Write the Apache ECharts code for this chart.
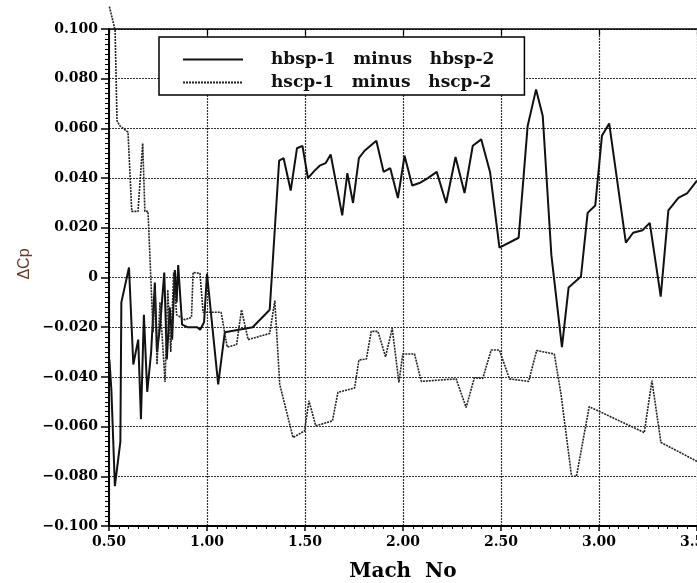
<!DOCTYPE html>
<html lang="en">
<head>
<meta charset="UTF-8">
<title>Delta Cp vs Mach No</title>
<script src="https://cdn.jsdelivr.net/npm/echarts@6/dist/echarts.min.js"></script>
<style>
  html, body { margin: 0; padding: 0; background: #fff; }
  #main { width: 697px; height: 583px; }
</style>
</head>
<body>
<div id="main"></div>
<script type="text/javascript">
// hbsp-1 minus hbsp-2 (solid)
var hbspMach = [0.502, 0.512, 0.530, 0.558, 0.563, 0.602, 0.624, 0.649, 0.663, 0.678,
  0.695, 0.715, 0.734, 0.745, 0.760, 0.782, 0.795, 0.810, 0.822, 0.836,
  0.845, 0.853, 0.873, 0.900, 0.950, 0.965, 0.985, 1.000, 1.057, 1.091,
  1.233, 1.320, 1.368, 1.391, 1.427, 1.459, 1.487, 1.515, 1.549, 1.575,
  1.605, 1.631, 1.690, 1.716, 1.745, 1.775, 1.804, 1.864, 1.901, 1.935,
  1.974, 2.008, 2.047, 2.084, 2.127, 2.172, 2.220, 2.268, 2.314, 2.356,
  2.399, 2.444, 2.492, 2.590, 2.636, 2.679, 2.713, 2.757, 2.811, 2.845,
  2.908, 2.942, 2.981, 3.015, 3.052, 3.137, 3.174, 3.222, 3.259, 3.315,
  3.354, 3.405, 3.451, 3.490, 3.500];
var hbspDcp = [-0.033, -0.045, -0.084, -0.066, -0.010, 0.004, -0.035, -0.025, -0.057, -0.015,
  -0.046, -0.030, -0.002, -0.030, -0.020, 0.002, -0.033, -0.012, -0.025, 0.003,
  -0.010, 0.005, -0.019, -0.020, -0.020, -0.021, -0.018, 0.0015, -0.043, -0.022,
  -0.020, -0.013, 0.047, 0.048, 0.035, 0.052, 0.053, 0.040, 0.043, 0.045,
  0.046, 0.0495, 0.025, 0.042, 0.030, 0.048, 0.051, 0.055, 0.0425, 0.044,
  0.032, 0.049, 0.037, 0.038, 0.040, 0.0425, 0.030, 0.0485, 0.034, 0.053,
  0.0556, 0.0425, 0.012, 0.016, 0.061, 0.0757, 0.065, 0.009, -0.028, -0.004,
  0.0004, 0.026, 0.029, 0.057, 0.062, 0.014, 0.018, 0.019, 0.022, -0.0077,
  0.027, 0.032, 0.034, 0.038, 0.039];

// hscp-1 minus hscp-2 (dotted)
var hscpMach = [0.502, 0.531, 0.541, 0.556, 0.597, 0.616, 0.648, 0.672, 0.683, 0.699,
  0.725, 0.735, 0.745, 0.760, 0.786, 0.800, 0.815, 0.830, 0.845, 0.887,
  0.921, 0.929, 0.964, 0.980, 1.072, 1.103, 1.151, 1.176, 1.210, 1.320,
  1.346, 1.371, 1.439, 1.498, 1.520, 1.555, 1.640, 1.668, 1.753, 1.775,
  1.813, 1.838, 1.872, 1.911, 1.945, 1.979, 1.999, 2.059, 2.093, 2.271,
  2.322, 2.364, 2.407, 2.450, 2.492, 2.543, 2.641, 2.682, 2.772, 2.806,
  2.860, 2.885, 2.950, 3.231, 3.270, 3.316, 3.392, 3.500];
var hscpDcp = [0.109, 0.0996, 0.063, 0.061, 0.0585, 0.0266, 0.0266, 0.054, 0.0266, 0.0266,
  -0.022, -0.005, -0.035, -0.010, -0.042, -0.005, -0.030, 0.002, -0.015, -0.017,
  -0.016, 0.002, 0.0017, -0.014, -0.014, -0.028, -0.027, -0.013, -0.025, -0.0225,
  -0.0093, -0.043, -0.0644, -0.0617, -0.0496, -0.0597, -0.0577, -0.0462, -0.0445, -0.0332,
  -0.0328, -0.0217, -0.0217, -0.0319, -0.0204, -0.0422, -0.0308, -0.0308, -0.0418, -0.0408,
  -0.0523, -0.0404, -0.0406, -0.0292, -0.0292, -0.0408, -0.0418, -0.0294, -0.0308, -0.0469,
  -0.080, -0.080, -0.052, -0.0624, -0.0415, -0.0664, -0.0695, -0.074];

var seriesNames = ['hbsp-1   minus   hbsp-2', 'hscp-1   minus   hscp-2'];

function zip(xs, ys) {
  return xs.map(function (x, i) { return [x, ys[i]]; });
}

var labelFont = {
  fontFamily: 'DejaVu Serif',
  fontWeight: 'bold',
  fontSize: 14,
  color: '#000'
};
var gridLine = { show: true, lineStyle: { color: '#333', type: [2, 1], width: 1.2 } };

var myChart = echarts.init(document.getElementById('main'));

var option = {
  backgroundColor: '#fff',
  animation: false,
  grid: { left: 109, right: 0, top: 29, bottom: 57, outerBoundsMode: 'none', containLabel: false },
  legend: {
    orient: 'vertical',
    left: 159,
    top: 37,
    padding: [14, 30, 4, 23],
    itemWidth: 60,
    itemHeight: 14,
    itemGap: 6,
    backgroundColor: '#fff',
    borderColor: '#000',
    borderWidth: 1.5,
    borderRadius: 0,
    itemStyle: { opacity: 0 },
    textStyle: {
      fontFamily: 'DejaVu Serif',
      fontWeight: 'bold',
      fontSize: 17,
      lineHeight: 16,
      color: '#111',
      padding: [0, 0, 0, 23]
    },
    data: seriesNames
  },
  xAxis: [{
    type: 'value',
    position: 'bottom',
    min: 0.5,
    max: 3.5,
    interval: 0.5,
    name: 'Mach  No',
    nameLocation: 'middle',
    nameGap: 36,
    nameTextStyle: { fontFamily: 'DejaVu Serif', fontWeight: 'bold', fontSize: 20, color: '#000' },
    axisLine: { show: true, onZero: false, lineStyle: { color: '#000', width: 2 } },
    axisTick: { show: true, length: 5, lineStyle: { color: '#000', width: 1.5 } },
    minorTick: { show: true, splitNumber: 10, length: 3, lineStyle: { color: '#000', width: 1 } },
    splitLine: gridLine,
    axisLabel: Object.assign({ margin: 9, formatter: function (v) { return v.toFixed(2); } }, labelFont)
  }, {
    type: 'value',
    position: 'top',
    min: 0.5,
    max: 3.5,
    interval: 0.5,
    axisLine: { show: true, onZero: false, lineStyle: { color: '#000', width: 1.5 } },
    axisTick: { show: true, inside: true, length: 6, lineStyle: { color: '#000', width: 1.2 } },
    axisLabel: { show: false },
    splitLine: { show: false }
  }],
  yAxis: {
    type: 'value',
    min: -0.1,
    max: 0.1,
    interval: 0.02,
    axisLine: { show: true, onZero: false, lineStyle: { color: '#000', width: 2 } },
    axisTick: { show: true, length: 8, lineStyle: { color: '#000', width: 1.5 } },
    minorTick: { show: true, splitNumber: 10, length: 4, lineStyle: { color: '#000', width: 1 } },
    splitLine: gridLine,
    axisLabel: Object.assign({
      margin: 11,
      formatter: function (v) {
        if (Math.abs(v) < 1e-9) return '0';
        return v.toFixed(3).replace('-', '\u2212');
      }
    }, labelFont)
  },
  graphic: [{
    type: 'text',
    x: 25,
    y: 264,
    rotation: Math.PI / 2,
    style: {
      x: 0,
      y: 0,
      text: '\u0394Cp',
      font: '16px "Liberation Sans", Arial, sans-serif',
      fill: '#6b3a24',
      align: 'center',
      verticalAlign: 'middle'
    }
  }],
  series: [{
    name: seriesNames[0],
    type: 'line',
    xAxisIndex: 0,
    symbol: 'none',
    clip: false,
    lineStyle: { color: '#111', width: 2 },
    itemStyle: { color: '#111' },
    data: zip(hbspMach, hbspDcp)
  }, {
    name: seriesNames[1],
    type: 'line',
    xAxisIndex: 0,
    symbol: 'none',
    clip: false,
    lineStyle: { color: '#222', width: 1.6, type: [2, 1] },
    itemStyle: { color: '#222' },
    data: zip(hscpMach, hscpDcp)
  }]
};

myChart.setOption(option);
</script>
</body>
</html>
